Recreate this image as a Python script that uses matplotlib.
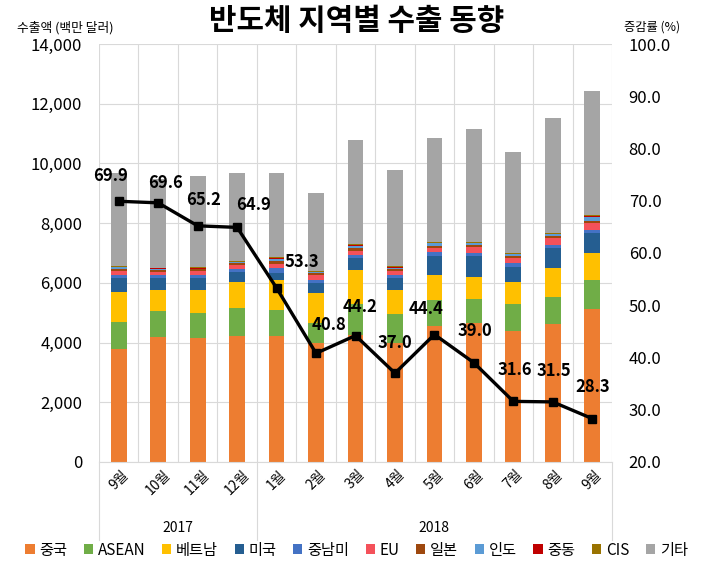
import matplotlib
matplotlib.use("Agg")
import matplotlib.pyplot as plt
import numpy as np

plt.rcParams['font.family'] = ['Noto Sans CJK KR', 'DejaVu Sans']

months = ['9월', '10월', '11월', '12월', '1월', '2월', '3월', '4월', '5월', '6월', '7월', '8월', '9월']
years = ['2017', '2018']

series_names = ['중국', 'ASEAN', '베트남', '미국', '중남미', 'EU', '일본', '인도', '중동', 'CIS', '기타']
china   = [3800, 4180, 4150, 4220, 4220, 3990, 4250, 4000, 4550, 4650, 4390, 4620, 5120]
asean   = [900, 870, 840, 940, 870, 670, 1040, 970, 870, 800, 900, 900, 970]
vietnam = [1000, 700, 770, 870, 1000, 1000, 1140, 790, 840, 740, 740, 980, 910]
usa     = [450, 400, 400, 330, 250, 350, 400, 400, 640, 700, 500, 670, 670]
latam   = [100, 100, 100, 100, 150, 100, 100, 100, 130, 100, 130, 100, 100]
eu      = [150, 120, 130, 150, 150, 150, 140, 140, 140, 200, 170, 230, 230]
japan   = [80, 70, 60, 60, 100, 70, 100, 70, 60, 70, 70, 60, 70]
india   = [40, 30, 30, 20, 50, 30, 50, 40, 100, 60, 50, 60, 130]
mideast = [20, 20, 20, 20, 30, 20, 50, 20, 20, 30, 30, 30, 30]
cis     = [20, 20, 20, 20, 30, 20, 30, 20, 20, 20, 20, 20, 40]
others  = [3120, 2970, 3060, 2950, 2830, 2600, 3500, 3230, 3480, 3780, 3380, 3850, 4150]
growth  = [69.9, 69.6, 65.2, 64.9, 53.3, 40.8, 44.2, 37.0, 44.4, 39.0, 31.6, 31.5, 28.3]

colors = ['#ED7D31', '#70AD47', '#FFC000', '#255E91', '#4472C4', '#F4515A',
          '#9E480E', '#5B9BD5', '#C00000', '#997300', '#A5A5A5']
# label offsets in points (dx, dy)
label_offsets = [(-6, 12), (5, 8), (4, 12), (12, 10), (18, 12), (9, 14), (3, 14),
                 (0, 15), (-6, 12), (1, 16), (1, 16), (1, 16), (0, 16)]

data = [china, asean, vietnam, usa, latam, eu, japan, india, mideast, cis, others]

fig = plt.figure(figsize=(7.13, 5.70), dpi=100)
ax = fig.add_axes([0.1389, 0.1895, 0.7194, 0.7333])
x = np.arange(len(months))
bottom = np.zeros(len(months))
for name, vals, c in zip(series_names, data, colors):
    ax.bar(x, vals, 0.4, bottom=bottom, color=c, label=name, zorder=2)
    bottom += np.array(vals)

ax.set_xlim(-0.5, len(months) - 0.5)
ax.set_ylim(0, 14000)
ax.set_yticks(np.arange(0, 14001, 2000))
ax.set_yticklabels([f'{v:,}' for v in range(0, 14001, 2000)], fontsize=12)
ax.grid(axis='y', color='#D9D9D9', lw=0.8, zorder=0)
for b in np.arange(-0.5, len(months), 1.0):
    ax.axvline(b, color='#D9D9D9', lw=0.8, zorder=0)
for s in ['top', 'right', 'left']:
    ax.spines[s].set_visible(False)
ax.spines['bottom'].set_color('#D9D9D9')
ax.tick_params(axis='y', length=0, pad=12)
ax.set_xticks(x)
ax.set_xticklabels(months, rotation=45, fontsize=10, ha='center', va='top')
ax.tick_params(axis='x', length=0, pad=4)

# year grouping
for b in [-0.5, 3.5, 12.5]:
    ax.plot([b, b], [0, -0.187], transform=ax.get_xaxis_transform(), color='#D9D9D9',
            lw=0.8, clip_on=False)
ax.text(1.5, -0.158, years[0], transform=ax.get_xaxis_transform(), ha='center', va='center', fontsize=10)
ax.text(8.0, -0.158, years[1], transform=ax.get_xaxis_transform(), ha='center', va='center', fontsize=10)

ax2 = ax.twinx()
ax2.set_ylim(20, 100)
ax2.set_yticks(np.arange(20, 100.1, 10))
ax2.set_yticklabels([f'{v:.1f}' for v in np.arange(20, 100.1, 10)], fontsize=12)
ax2.tick_params(axis='y', length=0, pad=12)
for s in ['top', 'right', 'left', 'bottom']:
    ax2.spines[s].set_visible(False)
ax2.plot(x, growth, color='black', lw=2.4, marker='s', markersize=6, zorder=5)
for xi, g, (dx, dy) in zip(x, growth, label_offsets):
    ax2.annotate(f'{g:.1f}', (xi, g), xytext=(dx, dy), textcoords='offset points',
                 ha='center', va='bottom', fontsize=12, fontweight='bold')

fig.text(0.5, 0.963, '반도체 지역별 수출 동향', ha='center', va='center', fontsize=21.5, fontweight='bold')
fig.text(0.024, 0.952, '수출액 (백만 달러)', ha='left', va='center', fontsize=9.2)
fig.text(0.875, 0.952, '증감률 (%)', ha='left', va='center', fontsize=8.8)

handles, labels = ax.get_legend_handles_labels()
fig.legend(handles, labels, loc='center', bbox_to_anchor=(0.5, 0.035), ncol=11, frameon=False,
           fontsize=11, handlelength=0.6, handleheight=0.6, handletextpad=0.3, columnspacing=1.1)

fig.savefig('out.png', dpi=100)
